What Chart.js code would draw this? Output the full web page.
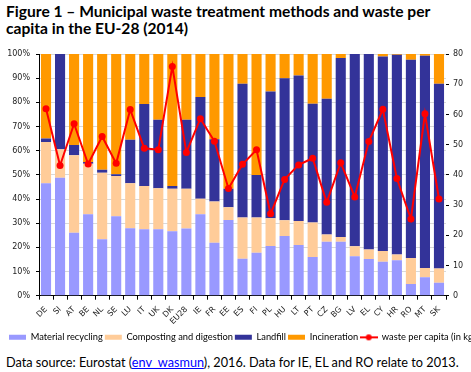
<!DOCTYPE html>
<html>
<head>
<meta charset="utf-8">
<script src="https://cdn.jsdelivr.net/npm/chart.js@4/dist/chart.umd.min.js"></script>
<style>
  html, body { margin: 0; padding: 0; background: #fff; width: 471px; height: 372px; overflow: hidden; position: relative; }
  #title { position: absolute; left: 6px; top: 3px; font: bold 15.6px Lato, sans-serif; line-height: 17px; color: #000; white-space: nowrap; }
  #wrap { position: absolute; left: 0; top: 40px; width: 560px; height: 312px; }
  #wrap canvas { display: block; }
  #source { position: absolute; left: 6px; top: 354px; font: 12.7px Lato, sans-serif; color: #000; white-space: nowrap; }
  #source a { color: #0000ff; text-decoration: underline; }
</style>
</head>
<body>
<div id="title">Figure 1 – Municipal waste treatment methods and waste per<br>capita in the EU-28 (2014)</div>
<div id="wrap"><canvas id="chart" width="560" height="312"></canvas></div>
<div id="source">Data source: Eurostat (<a>env_wasmun</a>), 2016. Data for IE, EL and RO relate to 2013.</div>
<script>
var countries = ['DE', 'SI', 'AT', 'BE', 'NL', 'SE', 'LU', 'IT', 'UK', 'DK', 'EU28', 'IE', 'FR', 'EE', 'ES',
  'FI', 'PL', 'HU', 'LT', 'PT', 'CZ', 'BG', 'LV', 'EL', 'CY', 'HR', 'RO', 'MT', 'SK'];

// shares of treated municipal waste, %
var recycling = [46.5, 48.8, 26.0, 33.7, 23.4, 32.9, 27.9, 27.5, 27.5, 26.7, 27.8, 33.7, 21.9, 31.3, 15.3,
  17.8, 20.6, 24.7, 21.0, 16.0, 22.3, 22.3, 16.3, 15.2, 14.0, 14.7, 4.8, 7.6, 5.4];
var composting = [17.1, 11.8, 32.1, 20.9, 27.5, 16.6, 18.6, 17.9, 17.0, 17.6, 16.5, 6.4, 17.1, 5.3, 17.1,
  14.6, 11.4, 6.5, 9.9, 14.3, 3.0, 2.0, 4.2, 3.9, 4.5, 2.3, 10.8, 3.9, 5.9];
var landfill = [1.4, 39.4, 4.3, 0.7, 1.2, 0.7, 18.0, 33.9, 28.3, 1.1, 28.5, 42.1, 25.7, 7.7, 55.3,
  17.5, 52.5, 58.8, 60.2, 49.1, 56.2, 74.0, 79.5, 80.9, 80.5, 82.7, 82.0, 87.8, 76.4];
var incineration = [35.0, 0.0, 37.6, 44.7, 47.9, 49.8, 35.5, 20.7, 27.2, 54.6, 27.2, 17.8, 35.3, 55.7, 12.3,
  50.1, 15.5, 10.0, 8.9, 20.6, 18.5, 1.7, 0.0, 0.0, 1.0, 0.3, 2.4, 0.7, 12.3];
// waste per capita, right axis
var perCapita = [61.9, 43.1, 56.9, 43.6, 52.7, 43.8, 61.6, 48.8, 48.3, 75.9, 47.4, 58.6, 51.1, 35.5, 43.5,
  48.3, 27.1, 38.5, 43.3, 45.5, 30.9, 44.0, 32.7, 51.0, 61.7, 38.8, 25.4, 60.2, 32.0];

var tickFont = { family: 'DejaVu Sans', size: 8 };

// little line-with-dot icon for the legend
function lineIcon() {
  var c = document.createElement('canvas');
  c.width = 18; c.height = 8;
  var g = c.getContext('2d');
  g.strokeStyle = '#ff0000';
  g.lineWidth = 2;
  g.beginPath(); g.moveTo(0, 4); g.lineTo(18, 4); g.stroke();
  g.fillStyle = '#ff0000';
  g.beginPath(); g.arc(9, 4, 3, 0, Math.PI * 2); g.fill();
  return c;
}
var icon = lineIcon();

function bar(label, data, color) {
  return { type: 'bar', label: label, data: data, backgroundColor: color, borderWidth: 0,
    yAxisID: 'y', stack: 'treat', order: 2, barPercentage: 0.72, categoryPercentage: 1 };
}

new Chart(document.getElementById('chart'), {
  data: {
    labels: countries,
    datasets: [
      bar('Material recycling', recycling, '#9999ff'),
      bar('Composting and digestion', composting, '#ffcc99'),
      bar('Landfill', landfill, '#333399'),
      bar('Incineration', incineration, '#ff9900'),
      {
        type: 'line', label: 'waste per capita (in kg)', data: perCapita, yAxisID: 'y1', order: 1,
        borderColor: '#ff0000', backgroundColor: '#ff0000', borderWidth: 2,
        pointRadius: 3.5, pointBackgroundColor: '#ff0000', pointBorderWidth: 0, tension: 0
      }
    ]
  },
  options: {
    responsive: false,
    animation: false,
    layout: { padding: { left: 7, top: 14, right: 0, bottom: 0 } },
    plugins: {
      tooltip: { enabled: false },
      legend: {
        position: 'bottom',
        align: 'start',
        labels: {
          font: { family: 'Lato', size: 9.3 },
          color: '#000',
          padding: 2,
          usePointStyle: true,
          pointStyleWidth: 17,
          boxHeight: 5,
          generateLabels: function(chart) {
            var items = Chart.defaults.plugins.legend.labels.generateLabels(chart);
            items.forEach(function(it) {
              it.pointStyle = it.datasetIndex === 4 ? icon : 'rect';
              it.lineWidth = 0;
            });
            items.sort(function(a, b) { return a.datasetIndex - b.datasetIndex; });
            return items;
          }
        }
      }
    },
    scales: {
      x: {
        stacked: true,
        grid: { drawOnChartArea: false, tickLength: 4, tickColor: '#000' },
        border: { color: '#000' },
        ticks: { font: tickFont, color: '#222', autoSkip: false, maxRotation: 45, minRotation: 45, padding: 5 },
        afterFit: function(s) { s.height = 35; }
      },
      y: {
        stacked: true, min: 0, max: 100,
        grid: { color: '#d9d9d9', tickLength: 3, tickColor: '#000' },
        border: { color: '#000' },
        ticks: { stepSize: 10, font: tickFont, color: '#222', padding: 6,
          callback: function(v) { return v + '%'; } },
        afterFit: function(s) { s.width = 32; }
      },
      y1: {
        position: 'right', min: 0, max: 80,
        grid: { drawOnChartArea: false, tickLength: 3, tickColor: '#000' },
        border: { display: false },
        ticks: { stepSize: 10, font: tickFont, color: '#222', padding: 4 },
        afterFit: function(s) { s.width = 114; }
      }
    }
  }
});
</script>
</body>
</html>
